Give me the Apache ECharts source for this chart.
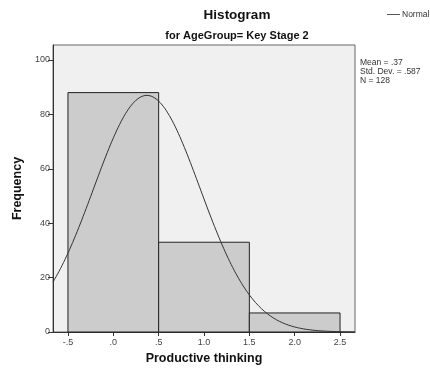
<!DOCTYPE html>
<html>
<head>
<meta charset="utf-8">
<script src="https://cdn.jsdelivr.net/npm/echarts@6/dist/echarts.min.js"></script>
<style>
  html, body { margin: 0; padding: 0; background: #fff; }
  #chart { width: 430px; height: 370px; }
</style>
</head>
<body>
<div id="chart"></div>
<script>
// Histogram bins: lower edge, upper edge, frequency
const binStart = [-0.5, 0.5, 1.5];
const binEnd = [0.5, 1.5, 2.5];
const frequency = [88, 33, 7];

// Summary statistics shown beside the plot
const mean = [0.37];
const stdDev = [0.587];
const count = [128];

// Axis tick positions and labels
const xTicks = [-0.5, 0, 0.5, 1.0, 1.5, 2.0, 2.5];
const xTickLabels = ['-.5', '.0', '.5', '1.0', '1.5', '2.0', '2.5'];
const yTicks = [0, 20, 40, 60, 80, 100];

const xMin = -0.665, xMax = 2.665;
const font = 'Liberation Sans';

// Fitted normal curve scaled to counts (bin width 1)
const binWidth = binEnd[0] - binStart[0];
const normalPts = [];
const steps = 200;
for (let i = 0; i <= steps; i++) {
  const x = xMin + (xMax - xMin) * i / steps;
  const z = (x - mean[0]) / stdDev[0];
  const y = count[0] * binWidth * Math.exp(-0.5 * z * z) / (stdDev[0] * Math.sqrt(2 * Math.PI));
  normalPts.push([x, y]);
}

const binData = binStart.map((s, i) => [s, binEnd[i], frequency[i]]);

const chart = echarts.init(document.getElementById('chart'), null, { renderer: 'canvas' });
chart.setOption({
  animation: false,
  backgroundColor: '#ffffff',
  title: [
    {
      text: 'Histogram',
      left: 237, top: 8, textAlign: 'center', padding: 0,
      textStyle: { fontFamily: font, fontSize: 13.5, fontWeight: 'bold', color: '#111' }
    },
    {
      text: 'for AgeGroup= Key Stage 2',
      left: 237, top: 30, textAlign: 'center', padding: 0,
      textStyle: { fontFamily: font, fontSize: 11, fontWeight: 'bold', color: '#111' }
    },
    {
      text: 'Mean = .37\nStd. Dev. = .587\nN = 128',
      left: 360, top: 58, padding: 0,
      textStyle: { fontFamily: font, fontSize: 8.5, fontWeight: 'normal', color: '#333', lineHeight: 9 }
    }
  ],
  graphic: [
    {
      type: 'line', silent: true,
      shape: { x1: 387, y1: 14.5, x2: 400, y2: 14.5 },
      style: { stroke: '#555', lineWidth: 1 }
    },
    {
      type: 'text', silent: true, left: 402, top: 10,
      style: { text: 'Normal', fontFamily: font, fontSize: 8.5, fill: '#333' }
    }
  ],
  grid: {
    left: 53, right: 75, top: 45, bottom: 38,
    show: true, backgroundColor: '#f0f0f0', borderColor: '#666', borderWidth: 1
  },
  xAxis: {
    type: 'value', min: xMin, max: xMax,
    name: 'Productive thinking', nameLocation: 'middle', nameGap: 20,
    nameTextStyle: { fontFamily: font, fontSize: 12.5, fontWeight: 'bold', color: '#111' },
    axisLine: { show: true, onZero: false, lineStyle: { color: '#333', width: 1 } },
    axisTick: { show: true, length: 4, customValues: xTicks, lineStyle: { color: '#333' } },
    axisLabel: {
      customValues: xTicks, margin: 6,
      fontFamily: font, fontSize: 9, color: '#444',
      formatter: v => {
        const idx = xTicks.findIndex(t => Math.abs(t - v) < 1e-6);
        return idx >= 0 ? xTickLabels[idx] : '';
      }
    },
    splitLine: { show: false }
  },
  yAxis: {
    type: 'value', min: 0, max: 105.5,
    name: 'Frequency', nameLocation: 'middle', nameGap: 26,
    nameTextStyle: { fontFamily: font, fontSize: 12.5, fontWeight: 'bold', color: '#111' },
    axisLine: { show: true, onZero: false, lineStyle: { color: '#333', width: 1 } },
    axisTick: { show: true, length: 5, customValues: yTicks, lineStyle: { color: '#333' } },
    axisLabel: { customValues: yTicks, margin: 3, fontFamily: font, fontSize: 9, color: '#444' },
    splitLine: { show: false }
  },
  series: [
    {
      name: 'Frequency',
      type: 'custom',
      data: binData,
      encode: { x: [0, 1], y: 2 },
      renderItem: (params, api) => {
        const p0 = api.coord([api.value(0), 0]);
        const p1 = api.coord([api.value(1), api.value(2)]);
        return {
          type: 'rect',
          shape: { x: p0[0], y: p1[1], width: p1[0] - p0[0], height: p0[1] - p1[1] },
          style: { fill: '#cccccc', stroke: '#222', lineWidth: 1 }
        };
      },
      z: 2
    },
    {
      name: 'Normal',
      type: 'line',
      data: normalPts,
      showSymbol: false,
      smooth: false,
      lineStyle: { color: '#333', width: 1 },
      z: 3
    }
  ]
});
</script>
</body>
</html>
